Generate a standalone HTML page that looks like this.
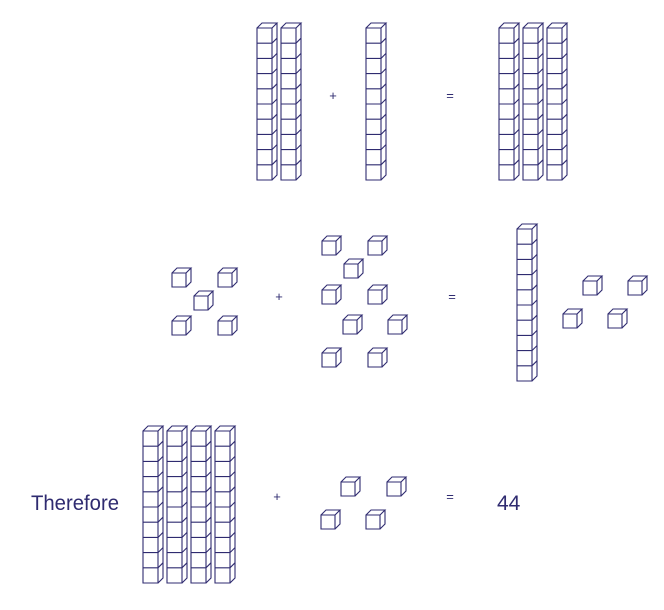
<!DOCTYPE html>
<html><head><meta charset="utf-8"><style>
html,body{margin:0;padding:0;background:#fff;width:664px;height:610px;overflow:hidden}
svg{display:block}
</style></head><body>
<svg width="664" height="610" viewBox="0 0 664 610" xmlns="http://www.w3.org/2000/svg">
<defs>
<g id="rod" fill="none" stroke="#2f2b70" stroke-width="1.1">
<path d="M0 0H15V152H0Z M0 0L5 -5H20L15 0 M20 -5V147L15 152"/>
<path d="M0 15.2H15L20 10.2 M0 30.4H15L20 25.4 M0 45.6H15L20 40.6 M0 60.8H15L20 55.8 M0 76H15L20 71 M0 91.2H15L20 86.2 M0 106.4H15L20 101.4 M0 121.6H15L20 116.6 M0 136.8H15L20 131.8"/>
</g>
<g id="cube" fill="none" stroke="#2f2b70" stroke-width="1.1">
<path d="M0 0H14V14H0Z M0 0L5 -5H19L14 0 M19 -5V9L14 14"/>
</g>
</defs>
<use href="#rod" x="257" y="28"/><use href="#rod" x="281" y="28"/>
<use href="#rod" x="366" y="28"/>
<use href="#rod" x="499" y="28"/><use href="#rod" x="523" y="28"/><use href="#rod" x="547" y="28"/>
<use href="#rod" x="517" y="229"/>
<use href="#rod" x="143" y="431"/><use href="#rod" x="167" y="431"/><use href="#rod" x="191" y="431"/><use href="#rod" x="215" y="431"/>
<use href="#cube" x="172" y="273"/><use href="#cube" x="218" y="273"/><use href="#cube" x="194" y="296"/><use href="#cube" x="172" y="321"/><use href="#cube" x="218" y="321"/>
<use href="#cube" x="322" y="241"/><use href="#cube" x="368" y="241"/><use href="#cube" x="344" y="264"/><use href="#cube" x="322" y="290"/><use href="#cube" x="368" y="290"/><use href="#cube" x="343" y="320"/><use href="#cube" x="388" y="320"/><use href="#cube" x="322" y="353"/><use href="#cube" x="368" y="353"/>
<use href="#cube" x="583" y="281"/><use href="#cube" x="628" y="281"/><use href="#cube" x="563" y="314"/><use href="#cube" x="608" y="314"/>
<use href="#cube" x="341" y="482"/><use href="#cube" x="387" y="482"/><use href="#cube" x="321" y="515"/><use href="#cube" x="366" y="515"/>
<g font-family="Liberation Sans, sans-serif" fill="#2f2b70" font-size="13" text-anchor="middle">
<text x="333" y="100">+</text><text x="450" y="100">=</text>
<text x="279" y="301">+</text><text x="452" y="301">=</text>
<text x="277" y="501">+</text><text x="450" y="501">=</text>
</g>
<g font-family="Liberation Sans, sans-serif" fill="#2f2b70" font-size="21">
<text x="31" y="510" textLength="88" lengthAdjust="spacingAndGlyphs">Therefore</text>
<text x="497" y="510">44</text>
</g>
</svg>
</body></html>
